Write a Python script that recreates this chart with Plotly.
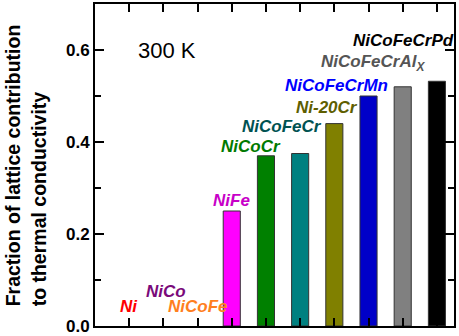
import plotly.graph_objects as go

alloys = ["Ni", "NiCo", "NiCoFe", "NiFe", "NiCoCr", "NiCoFeCr", "Ni-20Cr",
          "NiCoFeCrMn", "NiCoFeCrAlX", "NiCoFeCrPd"]
lattice_fraction = [None, None, None, 0.25, 0.37, 0.375, 0.44, 0.50, 0.52, 0.532]
label_texts = ["Ni", "NiCo", "NiCoFe", "NiFe", "NiCoCr", "NiCoFeCr", "Ni-20Cr",
               "NiCoFeCrMn", "NiCoFeCrAl<sub>X</sub>", "NiCoFeCrPd"]

bar_colors = ["#FF0000", "#800080", "#FF8000", "#FF00FF", "#008000", "#008080",
              "#808000", "#0000C8", "#808080", "#000000"]
label_colors = ["#FF0000", "#7A0A7A", "#FF7F1E", "#C800C8", "#007A00", "#005252",
                "#5E5E00", "#0000FF", "#555555", "#000000"]
# label anchor positions (x in category index units, y in data units)
label_x = [0.0, 1.08, 2.0, 3.0, 3.56, 4.46, 5.78, 6.05, 7.12, 8.03]
label_y = [0.043, 0.074, 0.043, 0.272, 0.391, 0.433, 0.476, 0.522, 0.572, 0.62]

fig = go.Figure()
fig.add_trace(go.Bar(
    x=list(range(len(alloys))),
    y=lattice_fraction,
    width=0.5,
    marker=dict(color=bar_colors, line=dict(color="#333333", width=1)),
    hovertext=alloys,
    showlegend=False,
))

font_family = "Liberation Sans, Arial, sans-serif"
annotations = []
for tx, lx, ly, c in zip(label_texts, label_x, label_y, label_colors):
    annotations.append(dict(
        x=lx, y=ly, xref="x", yref="y", text=f"<b><i>{tx}</i></b>",
        showarrow=False, xanchor="center", yanchor="middle",
        font=dict(family=font_family, size=17, color=c),
    ))
annotations.append(dict(
    x=1.1, y=0.6, xref="x", yref="y", text="300 K", showarrow=False,
    xanchor="center", yanchor="middle",
    font=dict(family=font_family, size=22, color="black"),
))
annotations.append(dict(
    x=-0.265, y=0.5, xref="paper", yref="paper",
    text="<b>Fraction of lattice contribution<br>to thermal conductivity</b>",
    textangle=-90, showarrow=False, align="left",
    xanchor="left", yanchor="middle",
    font=dict(family=font_family, size=19.5, color="black"),
))

fig.update_layout(
    width=459, height=336,
    margin=dict(l=95, r=5, t=4, b=10, autoexpand=False),
    paper_bgcolor="white", plot_bgcolor="white",
    annotations=annotations,
    xaxis=dict(
        range=[-1, 9.5], tickvals=list(range(len(alloys))), showticklabels=False,
        ticks="inside", ticklen=8, tickwidth=1.5, tickcolor="black",
        showline=True, linecolor="black", linewidth=2, mirror="allticks",
        showgrid=False, zeroline=False, fixedrange=True, automargin=False,
    ),
    yaxis=dict(
        range=[0, 0.7], tickvals=[0, 0.2, 0.4, 0.6], ticktext=["0.0", "0.2", "0.4", "0.6"],
        ticks="inside", ticklen=9, tickwidth=1.5, tickcolor="black",
        minor=dict(tickvals=[0.1, 0.3, 0.5], ticks="inside", ticklen=6,
                   tickwidth=1.5, tickcolor="black"),
        showline=True, linecolor="black", linewidth=2, mirror="allticks",
        showgrid=False, zeroline=False, automargin=False,
        tickfont=dict(family=font_family, size=17, color="black", weight="bold"),
        fixedrange=True,
    ),
    bargap=0.5,
)

fig.write_html(
    "out.html",
    config={"displayModeBar": False},
    post_script="document.body.style.margin='0';document.body.style.overflow='hidden';",
)
